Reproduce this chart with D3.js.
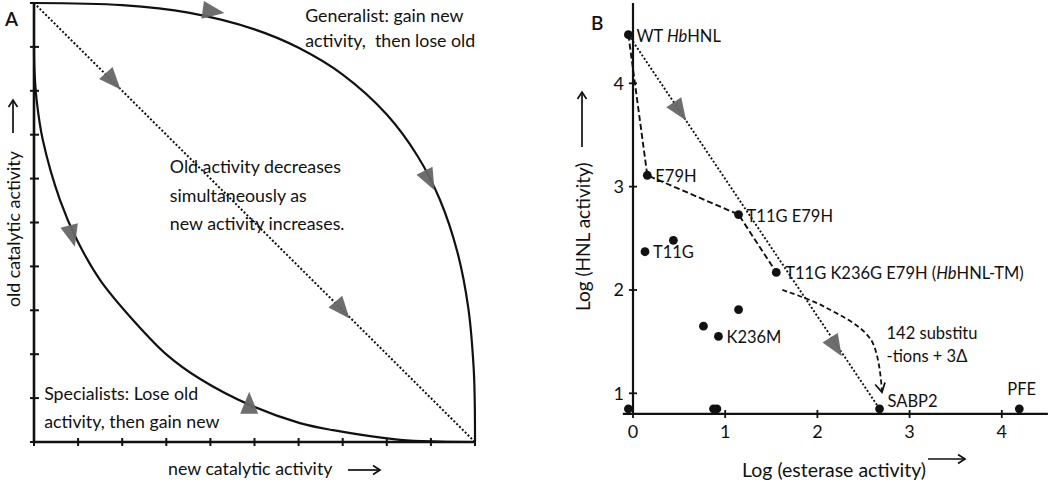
<!DOCTYPE html>
<html><head><meta charset="utf-8">
<script src="https://cdn.jsdelivr.net/npm/d3@7"></script>
<style>
body{margin:0;background:#fff;}
text{font-family:Lato,"DejaVu Sans",sans-serif;fill:#111;white-space:pre;}
</style>
</head><body>
<svg id="c" width="1050" height="482"></svg>
<script>
// ---------------- Panel A data (conceptual, units 0..10) ----------------
const aTicks = [0,1,2,3,4,5,6,7,8,9,10];
const generalistX = [0,2,3.5,5,6,7,8,8.7,9.2,9.6,9.85,9.97,9.995,10];
const generalistY = [10,9.95,9.78,9.40,8.98,8.37,7.46,6.51,5.53,4.33,3.04,1.68,0.86,0];
const specialistX = [0,0.01,0.06,0.20,0.59,0.975,1.50,2.29,3.02,3.76,4.90,6.03,6.78,8.30,9.2,10];
const specialistY = [9.04,8.47,7.79,6.88,5.51,4.60,3.69,2.73,1.98,1.44,0.84,0.43,0.27,0.05,0.01,0];
const diagonalX = [0,10];
const diagonalY = [10,0];
const aArrowX = [3.99,8.93,1.74,6.94,0.84,4.88];
const aArrowY = [9.82,6.03,8.28,3.07,4.77,0.81];
const aArrowAngle = [8,63,48,50,75,-90];
const aNotes = ["Generalist: gain new","activity,  then lose old","Old activity decreases","simultaneously as","new activity increases.","Specialists: Lose old","activity, then gain new"];
const aNoteX = [6.15,6.15,3.08,3.08,3.08,0.23,0.23];
const aNoteY = [9.57,9.0,6.13,5.47,4.83,0.96,0.32];

// ---------------- Panel B data (log units) ----------------
const variants = ["WT HbHNL","E79H","T11G E79H","T11G","","","","K236M","","","","T11G K236G E79H (HbHNL-TM)","SABP2","PFE"];
const esterase = [-0.05,0.155,1.145,0.13,0.438,1.145,0.764,0.927,-0.05,0.873,0.91,1.554,2.674,4.19];
const hnl      = [4.47,3.11,2.73,2.37,2.48,1.81,1.65,1.55,0.85,0.85,0.85,2.17,0.85,0.85];
const bTicksX = [0,1,2,3,4];
const bTicksY = [1,2,3,4];
const pathVariants = ["WT HbHNL","E79H","T11G E79H","T11G K236G E79H (HbHNL-TM)"];
const trendVariants = ["WT HbHNL","SABP2"];
const curvedX = [1.62,2.07,2.58,2.70];
const curvedY = [2.0,1.84,1.52,1.01];
const bArrowX = [0.487,2.18];
const bArrowY = [3.757,1.478];
const bArrowAngle = [56,58];
const bNotes = ["142 substitu","-tions + 3\u0394"];
const bNoteX = [2.75,2.75];
const bNoteY = [1.53,1.30];

// ---------------- Drawing ----------------
const svg = d3.select("#c");
svg.append("rect").attr("width",1050).attr("height",482).attr("fill","#fff");
const ink = "#111";
const FA = 17.8;
const FB = 16.5;

function tri(g, cx, cy, ang){
  const L = 22, W = 18, a = ang*Math.PI/180;
  const dx = Math.cos(a), dy = Math.sin(a), nx = -dy, ny = dx;
  const ax = cx + dx*L*2/3, ay = cy + dy*L*2/3;
  const bx = cx - dx*L/3, by = cy - dy*L/3;
  const pts = [[ax,ay],[bx+nx*W/2,by+ny*W/2],[bx-nx*W/2,by-ny*W/2]];
  g.append("polygon").attr("points",pts.map(p=>p.join(",")).join(" "))
    .attr("fill","#666").attr("fill-opacity",0.95);
}
function arrowLine(x1,y1,x2,y2){
  svg.append("line").attr("x1",x1).attr("y1",y1).attr("x2",x2).attr("y2",y2).attr("stroke",ink).attr("stroke-width",1.7);
  const a = Math.atan2(y2-y1,x2-x1), s=7, w=4.5;
  const p1=[x2-s*Math.cos(a)+w*Math.sin(a), y2-s*Math.sin(a)-w*Math.cos(a)];
  const p2=[x2-s*Math.cos(a)-w*Math.sin(a), y2-s*Math.sin(a)+w*Math.cos(a)];
  svg.append("path").attr("d",`M${p1}L${x2},${y2}L${p2}`).attr("fill","none").attr("stroke",ink).attr("stroke-width",1.7);
}

// Panel A
const xA = d3.scaleLinear().domain([0,10]).range([34,475]);
const yA = d3.scaleLinear().domain([0,10]).range([442,3]);
const gA = svg.append("g");
const lineA = d3.line().x(d=>xA(d[0])).y(d=>yA(d[1])).curve(d3.curveCatmullRom.alpha(0.5));

gA.append("path").datum(diagonalX.map((x,i)=>[x,diagonalY[i]]))
  .attr("d",d3.line().x(d=>xA(d[0])).y(d=>yA(d[1])))
  .attr("fill","none").attr("stroke",ink).attr("stroke-width",2).attr("stroke-dasharray","2,2");
gA.append("path").datum(generalistX.map((x,i)=>[x,generalistY[i]]))
  .attr("d",lineA).attr("fill","none").attr("stroke",ink).attr("stroke-width",2.2);
gA.append("path").datum(specialistX.map((x,i)=>[x,specialistY[i]]))
  .attr("d",lineA).attr("fill","none").attr("stroke",ink).attr("stroke-width",2.2);

gA.append("line").attr("x1",xA(0)).attr("x2",xA(10)).attr("y1",yA(0)).attr("y2",yA(0)).attr("stroke",ink).attr("stroke-width",2.6);
gA.append("line").attr("x1",xA(0)).attr("x2",xA(0)).attr("y1",yA(0)).attr("y2",yA(10)).attr("stroke",ink).attr("stroke-width",2.6);
aTicks.forEach(t=>{
  gA.append("line").attr("x1",xA(t)).attr("x2",xA(t)).attr("y1",yA(0)-4).attr("y2",yA(0)+4).attr("stroke",ink).attr("stroke-width",2);
  gA.append("line").attr("x1",xA(0)-4).attr("x2",xA(0)+5).attr("y1",yA(t)).attr("y2",yA(t)).attr("stroke",ink).attr("stroke-width",2);
});
aArrowX.forEach((x,i)=>tri(gA,xA(x),yA(aArrowY[i]),aArrowAngle[i]));
aNotes.forEach((t,i)=>gA.append("text").attr("x",xA(aNoteX[i])).attr("y",yA(aNoteY[i])).attr("font-size",FA).text(t));
svg.append("text").attr("x",5).attr("y",26).attr("font-size",19).attr("font-weight",600).text("A");

svg.append("text").attr("x",168).attr("y",475).attr("font-size",FA).text("new catalytic activity");
arrowLine(348,470,380,470);
svg.append("text").attr("transform","translate(20,307) rotate(-90)").attr("font-size",FA).text("old catalytic activity");
arrowLine(13,133,13,100);

// Panel B
const xB = d3.scaleLinear().domain([0,4]).range([633,1001.8]);
const yB = d3.scaleLinear().domain([1,4]).range([393.3,83.3]);
const gB = svg.append("g");
const byName = n => variants.indexOf(n);
const lineB = d3.line().x(d=>xB(d[0])).y(d=>yB(d[1]));

gB.append("line").attr("x1",xB(-0.11)).attr("x2",xB(4.5)).attr("y1",yB(0.8)).attr("y2",yB(0.8)).attr("stroke",ink).attr("stroke-width",2.2);
gB.append("line").attr("x1",xB(0)).attr("x2",xB(0)).attr("y1",yB(0.8)).attr("y2",yB(4.776)).attr("stroke",ink).attr("stroke-width",2.2);
bTicksX.forEach(t=>{
  gB.append("line").attr("x1",xB(t)).attr("x2",xB(t)).attr("y1",yB(0.8)-4).attr("y2",yB(0.8)+4).attr("stroke",ink).attr("stroke-width",1.8);
  gB.append("text").attr("x",xB(t)).attr("y",438).attr("text-anchor","middle").attr("font-size",18).text(t);
});
bTicksY.forEach(t=>{
  gB.append("line").attr("x1",xB(0)-4).attr("x2",xB(0)+4).attr("y1",yB(t)).attr("y2",yB(t)).attr("stroke",ink).attr("stroke-width",1.8);
  gB.append("text").attr("x",624).attr("y",yB(t)).attr("dy","0.36em").attr("text-anchor","end").attr("font-size",18).text(t);
});

gB.append("path").datum(trendVariants.map(n=>[esterase[byName(n)],hnl[byName(n)]]))
  .attr("d",lineB).attr("fill","none").attr("stroke",ink).attr("stroke-width",1.9).attr("stroke-dasharray","2,2");
gB.append("path").datum(pathVariants.map(n=>[esterase[byName(n)],hnl[byName(n)]]))
  .attr("d",lineB).attr("fill","none").attr("stroke",ink).attr("stroke-width",1.9).attr("stroke-dasharray","6,3");
gB.append("path").datum(curvedX.map((x,i)=>[x,curvedY[i]]))
  .attr("d",d3.line().x(d=>xB(d[0])).y(d=>yB(d[1])).curve(d3.curveCatmullRom.alpha(0.5)))
  .attr("fill","none").attr("stroke",ink).attr("stroke-width",1.8).attr("stroke-dasharray","5,3");
{
  const n = curvedX.length;
  const x2 = xB(curvedX[n-1]), y2 = yB(curvedY[n-1]);
  const x1 = xB(curvedX[n-2]), y1 = yB(curvedY[n-2]);
  const a = Math.atan2(y2-y1,x2-x1), s=9, w=5;
  const p1=[x2-s*Math.cos(a)+w*Math.sin(a), y2-s*Math.sin(a)-w*Math.cos(a)];
  const p2=[x2-s*Math.cos(a)-w*Math.sin(a), y2-s*Math.sin(a)+w*Math.cos(a)];
  gB.append("path").attr("d",`M${p1}L${x2},${y2}L${p2}`).attr("fill","none").attr("stroke",ink).attr("stroke-width",1.8);
}
bArrowX.forEach((x,i)=>tri(gB,xB(x),yB(bArrowY[i]),bArrowAngle[i]));

esterase.forEach((e,i)=>gB.append("circle").attr("cx",xB(e)).attr("cy",yB(hnl[i])).attr("r",4.4).attr("fill",ink));

const labelOffset = {"WT HbHNL":[8,7],"E79H":[8,7],"T11G E79H":[8,7],"T11G":[8,6],"K236M":[8,7],"T11G K236G E79H (HbHNL-TM)":[9,7],"SABP2":[8,-2],"PFE":[-12,-14]};
variants.forEach((v,i)=>{
  if(!v) return;
  const o = labelOffset[v];
  const t = gB.append("text").attr("x",xB(esterase[i])+o[0]).attr("y",yB(hnl[i])+o[1]).attr("font-size",FB);
  v.split("Hb").forEach((p,k)=>{
    if(k>0) t.append("tspan").attr("font-style","italic").text("Hb");
    t.append("tspan").text(p);
  });
});
bNotes.forEach((t,i)=>gB.append("text").attr("x",xB(bNoteX[i])).attr("y",yB(bNoteY[i])).attr("font-size",FB).text(t));
svg.append("text").attr("x",591).attr("y",30).attr("font-size",19).attr("font-weight",600).text("B");

svg.append("text").attr("x",742).attr("y",477).attr("font-size",19.5).text("Log (esterase activity)");
arrowLine(928,459,965,459);
svg.append("text").attr("transform","translate(590,311) rotate(-90)").attr("font-size",19).text("Log (HNL activity)");
arrowLine(582,147,582,92);
</script>
</body></html>
